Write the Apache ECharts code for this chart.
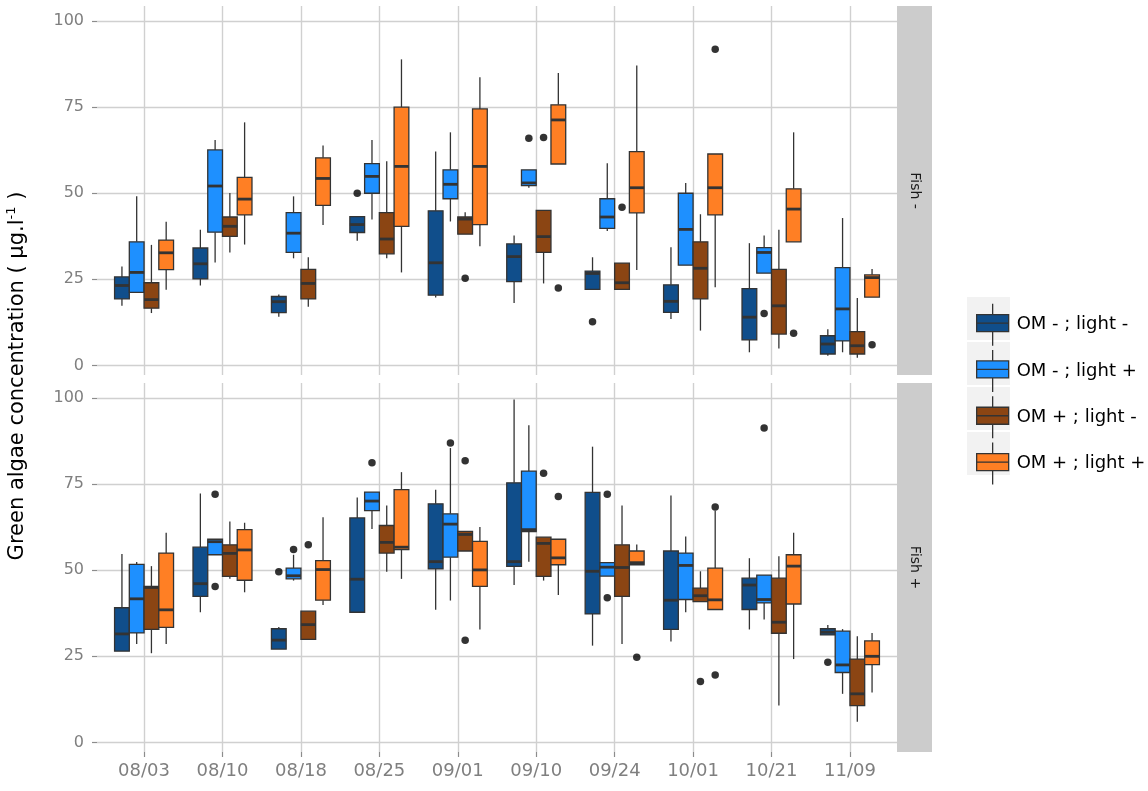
<!DOCTYPE html>
<html><head><meta charset="utf-8">
<script src="https://cdn.jsdelivr.net/npm/echarts@6/dist/echarts.min.js"></script>
<style>html,body{margin:0;padding:0;background:#fff}#c{width:1148px;height:791px}</style>
</head><body><div id="c"></div>
<script>
// ---------- DATA ----------
const dates = ['08/03','08/10','08/18','08/25','09/01','09/10','09/24','10/01','10/21','11/09'];
const groupNames = ['OM - ; light -','OM - ; light +','OM + ; light -','OM + ; light +'];
const panelNames = ['Fish -','Fish +'];
const yTickValues = [0,25,50,75,100];

// Box stats per date: [min, q1, median, q3, max]
// Panel "Fish -"
const fishMinus_omMinus_lightMinus = [
  [17.3,19.3,23.2,25.7,28.7],[23.2,25.1,29.5,34.1,39.4],[14.1,15.3,18.5,20.0,20.6],[36.2,38.6,40.9,43.2,43.2],
  [19.7,20.4,29.8,44.9,62.1],[18.1,24.3,31.6,35.3,37.7],[22.1,22.1,26.7,27.4,31.4],[13.5,15.4,18.6,23.4,34.3],
  [3.8,7.4,14.0,22.3,35.5],[2.8,3.3,6.2,8.6,10.5]];
const fishMinus_omMinus_lightPlus = [
  [21.2,21.2,27.0,35.9,49.1],[29.9,38.7,52.1,62.6,65.5],[31.1,32.8,38.4,44.4,49.1],[42.4,50.0,54.9,58.6,65.5],
  [41.8,48.4,52.6,56.8,67.7],[51.6,52.2,53.0,56.8,56.8],[39.0,39.8,43.1,48.4,58.7],[29.1,29.1,39.5,50.0,53.0],
  [26.8,26.8,32.8,34.2,37.7],[3.8,7.1,16.4,28.4,42.8]];
const fishMinus_omPlus_lightMinus = [
  [15.2,16.6,19.1,24.0,35.0],[32.8,37.5,40.4,43.1,50.1],[17.0,19.3,23.8,27.9,31.4],[31.1,32.4,36.7,44.4,59.3],
  [38.1,38.1,42.5,43.1,44.5],[23.8,32.8,37.4,45.0,45.0],[22.1,22.1,24.0,29.7,29.7],[10.1,19.3,28.2,35.9,43.9],
  [4.9,9.1,17.3,27.9,39.4],[2.2,3.3,5.7,9.8,19.6]];
const fishMinus_omPlus_lightPlus = [
  [22.0,27.8,32.7,36.4,41.7],[35.1,43.7,48.3,54.6,70.6],[40.8,46.5,54.3,60.3,63.9],[27.0,40.4,57.8,75.0,88.9],
  [34.6,40.9,57.8,74.5,83.7],[58.5,58.5,71.3,75.7,84.9],[27.7,44.3,51.6,62.1,87.1],[22.7,43.7,51.6,61.4,61.4],
  [35.9,35.9,45.4,51.3,67.7],[19.8,19.8,25.5,26.3,28.0]];
// Panel "Fish +"
const fishPlus_omMinus_lightMinus = [
  [26.5,26.5,31.5,39.1,54.7],[37.8,42.4,46.1,56.7,72.3],[27.1,27.1,29.7,33.0,33.5],[37.8,37.8,47.4,65.2,71.1],
  [38.5,50.4,52.5,69.3,73.4],[45.7,51.1,52.5,75.4,99.6],[28.1,37.3,49.7,72.6,85.9],[29.3,32.8,41.3,55.6,71.7],
  [32.8,38.6,45.7,47.7,53.5],[31.2,31.2,32.0,33.0,34.1]];
const fishPlus_omMinus_lightPlus = [
  [28.6,31.8,41.7,51.7,52.4],[54.5,54.5,58.3,59.0,59.0],[47.0,47.5,48.4,50.6,54.5],[62.0,67.3,70.1,72.7,72.7],
  [41.2,53.8,63.4,66.4,85.5],[52.5,61.2,61.8,78.8,92.1],[48.3,48.3,50.9,52.2,52.2],[37.8,41.5,51.4,55.0,59.8],
  [35.7,40.5,41.5,48.6,48.6],[14.1,20.3,22.5,32.3,32.9]];
const fishPlus_omPlus_lightMinus = [
  [25.9,32.8,45.0,45.3,51.2],[47.5,48.2,54.9,57.4,64.2],[29.9,29.9,34.2,38.1,38.1],[49.6,55.0,58.1,63.0,68.8],
  [55.6,55.6,60.4,61.3,61.3],[47.0,48.2,57.8,59.6,59.6],[28.6,42.4,50.8,57.4,68.8],[40.9,40.9,42.6,44.8,49.7],
  [10.7,31.7,34.9,47.7,54.1],[6.0,10.7,14.1,24.2,30.8]];
const fishPlus_omPlus_lightPlus = [
  [28.6,33.4,38.5,55.0,60.9],[43.6,47.1,55.9,61.8,63.8],[39.9,41.3,50.2,52.8,65.4],[47.5,56.0,56.7,73.4,78.5],
  [32.8,45.3,50.1,58.4,62.6],[42.8,51.6,53.6,59.0,59.0],[51.6,51.6,52.2,55.6,57.5],[38.6,38.6,41.4,50.6,67.3],
  [24.2,40.2,51.2,54.5,60.9],[14.5,22.6,25.0,29.5,31.8]];

// Outliers: [dateIndex, value]
const fishMinus_omMinus_lightMinus_out = [[3,50.0],[6,12.7]];
const fishMinus_omMinus_lightPlus_out  = [[5,66.0],[8,15.1]];
const fishMinus_omPlus_lightMinus_out  = [[4,25.3],[5,66.2],[6,45.9]];
const fishMinus_omPlus_lightPlus_out   = [[5,22.5],[7,91.8],[8,9.3],[9,6.0]];
const fishPlus_omMinus_lightMinus_out  = [[2,49.6],[9,23.3]];
const fishPlus_omMinus_lightPlus_out   = [[1,72.1],[1,45.3],[2,56.0],[3,81.2],[4,87.0],[6,72.1],[6,42.0],[8,91.3]];
const fishPlus_omPlus_lightMinus_out   = [[2,57.4],[4,81.8],[4,29.7],[5,78.2],[7,17.7]];
const fishPlus_omPlus_lightPlus_out    = [[5,71.4],[6,24.7],[7,68.4],[7,19.6]];

// ---------- STYLE ----------
const groupColors = ['#104E8B','#1E90FF','#8B4513','#FF7F24'];
const FONT = 'DejaVu Sans';
const BW = 0.188;              // dodge / box width in category units
const LINE = '#333333';
const GRIDC = '#d0d0d0';

const panels = [
  {boxes:[fishMinus_omMinus_lightMinus,fishMinus_omMinus_lightPlus,fishMinus_omPlus_lightMinus,fishMinus_omPlus_lightPlus],
   outs:[fishMinus_omMinus_lightMinus_out,fishMinus_omMinus_lightPlus_out,fishMinus_omPlus_lightMinus_out,fishMinus_omPlus_lightPlus_out]},
  {boxes:[fishPlus_omMinus_lightMinus,fishPlus_omMinus_lightPlus,fishPlus_omPlus_lightMinus,fishPlus_omPlus_lightPlus],
   outs:[fishPlus_omMinus_lightMinus_out,fishPlus_omMinus_lightPlus_out,fishPlus_omPlus_lightMinus_out,fishPlus_omPlus_lightPlus_out]}
];

const grids = [
  {left:97, top:6, width:800, height:369},
  {left:97, top:383, width:800, height:369}
];
const dateIdx = dates.map((d,i)=>i);

function makeRender(g){
  return function(params, api){
    const cx = api.value(0) + (g - 1.5) * BW;
    const pMin = api.coord([cx, api.value(1)]);
    const pQ1  = api.coord([cx, api.value(2)]);
    const pMed = api.coord([cx, api.value(3)]);
    const pQ3  = api.coord([cx, api.value(4)]);
    const pMax = api.coord([cx, api.value(5)]);
    const half = api.size([BW, 0])[0] / 2;
    const x = pMed[0];
    return {type:'group', children:[
      {type:'line', shape:{x1:x,y1:pQ1[1],x2:x,y2:pMin[1]}, style:{stroke:LINE,lineWidth:1.3}},
      {type:'line', shape:{x1:x,y1:pQ3[1],x2:x,y2:pMax[1]}, style:{stroke:LINE,lineWidth:1.3}},
      {type:'rect', shape:{x:x-half,y:pQ3[1],width:half*2,height:pQ1[1]-pQ3[1]},
        style:{fill:groupColors[g],stroke:LINE,lineWidth:1.3}},
      {type:'line', shape:{x1:x-half,y1:pMed[1],x2:x+half,y2:pMed[1]}, style:{stroke:LINE,lineWidth:2.8}}
    ]};
  };
}

const xAxes = [], yAxes = [], series = [];
panels.forEach((p, pi) => {
  xAxes.push({
    type:'value', gridIndex:pi, min:-0.6, max:9.6, position:'bottom',
    axisLine:{show:false, onZero:false},
    axisTick:{show:pi===1, customValues:dateIdx, length:5, lineStyle:{color:'#8c8c8c',width:1.2}},
    axisLabel:{show:pi===1, customValues:dateIdx, formatter:(v)=>dates[Math.round(v)],
      color:'#7f7f7f', fontSize:18, fontFamily:FONT, margin:10},
    splitLine:{show:true, lineStyle:{color:GRIDC,width:1.4}}
  });
  yAxes.push({
    type:'value', gridIndex:pi, min:-2.8, max:104.4, position:'left',
    axisLine:{show:false, onZero:false},
    axisTick:{show:true, customValues:yTickValues, length:5, lineStyle:{color:'#8c8c8c',width:1.2}},
    axisLabel:{customValues:yTickValues, color:'#7f7f7f', fontSize:16, fontFamily:FONT, margin:13},
    splitLine:{show:true, lineStyle:{color:GRIDC,width:1.4}}
  });
  p.boxes.forEach((arr, g) => {
    series.push({
      type:'custom', name:groupNames[g], xAxisIndex:pi, yAxisIndex:pi,
      itemStyle:{color:groupColors[g]},
      renderItem:makeRender(g),
      encode:{x:0, y:[1,2,3,4,5]},
      data: arr.map((b,i)=>[i, b[0], b[1], b[2], b[3], b[4]]),
      z:2
    });
  });
  const outData = [];
  p.outs.forEach((arr, g) => arr.forEach(o => outData.push([o[0] + (g - 1.5) * BW, o[1]])));
  series.push({
    type:'scatter', name:'outliers', xAxisIndex:pi, yAxisIndex:pi,
    symbolSize:7.5, itemStyle:{color:'#000'}, data:outData, z:3, silent:true
  });
});

const graphics = [];
// facet strips
panels.forEach((p, pi) => {
  const g = grids[pi];
  graphics.push({type:'rect', shape:{x:g.left+g.width, y:g.top, width:35, height:g.height},
    style:{fill:'#cccccc'}, z:0});
  graphics.push({type:'text', x:g.left+g.width+17.5, y:g.top+g.height/2, rotation:-Math.PI/2,
    style:{text:panelNames[pi], fontSize:14, fontFamily:FONT, fill:'#1a1a1a', align:'center', verticalAlign:'middle'}, z:1});
});
// legend key backgrounds
groupNames.forEach((n, i) => {
  graphics.push({type:'rect', shape:{x:967, y:297 + i*45, width:43, height:43}, style:{fill:'#f2f2f2'}, z:0});
});
// y axis title
graphics.push({type:'text', x:18, y:376, rotation:Math.PI/2,
  style:{text:'Green algae concentration ( µg.l{sup|-1} )', fontSize:21, fontFamily:FONT, fill:'#000',
    align:'center', verticalAlign:'middle',
    rich:{sup:{fontSize:13, fontFamily:FONT, fill:'#000', verticalAlign:'top', lineHeight:26}}}, z:1});

const chart = echarts.init(document.getElementById('c'), null, {renderer:'canvas'});
chart.setOption({
  animation:false,
  backgroundColor:'#ffffff',
  grid:grids,
  xAxis:xAxes,
  yAxis:yAxes,
  legend:{
    orient:'vertical', left:971, top:298, itemWidth:34, itemHeight:42, itemGap:3,
    icon:'path://M17,0L17,11M1,11L33,11L33,28L1,28ZM1,19.5L33,19.5M17,28L17,42',
    itemStyle:{borderColor:'#333333', borderWidth:1.3},
    textStyle:{fontSize:18, fontFamily:FONT, color:'#000', padding:[0,0,0,2]},
    data:groupNames, selectedMode:false, z:10
  },
  graphic:graphics,
  series:series
});
</script></body></html>
